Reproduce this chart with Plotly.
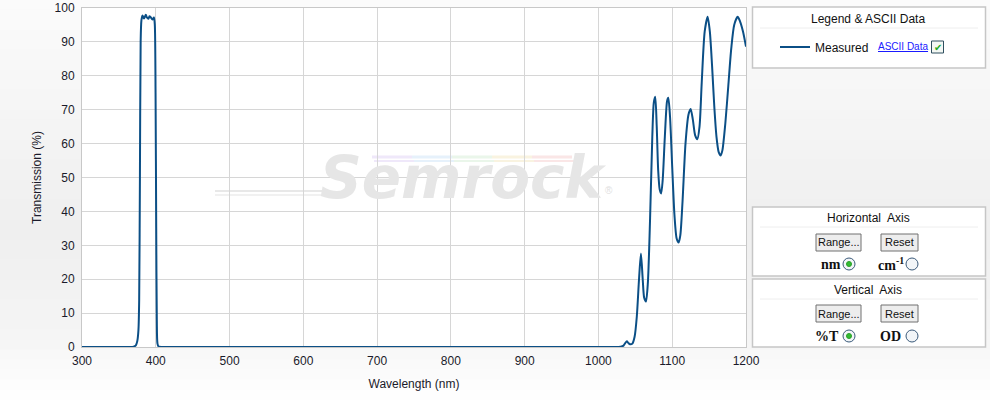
import plotly.graph_objects as go

# ---------------- data ----------------
wavelength_nm = [
    300, 340, 365, 370, 373, 375, 376.5, 377.5, 378.5, 379.5, 380.5, 382, 384, 386.5,
    388, 390, 391.5, 393, 395.5, 397.5, 398.7, 399.7, 400.6, 401.4, 402.3, 404, 410,
    500, 700, 900, 1020, 1030, 1034, 1036.5, 1038.5, 1040.5, 1043, 1046, 1049, 1052,
    1055, 1057.6, 1060, 1062, 1064.4, 1067, 1070, 1073, 1075, 1077, 1079, 1081, 1083,
    1085, 1087, 1090, 1093, 1094.7, 1097, 1100, 1103, 1106, 1108.7, 1111, 1114, 1118,
    1122, 1125, 1128, 1131, 1134, 1137, 1140, 1144, 1148, 1151, 1154, 1157, 1160,
    1163, 1165.7, 1168, 1172, 1176, 1180, 1184, 1188.7, 1192, 1196, 1200,
]
transmission_pct = [
    0, 0, 0, 0.1, 0.5, 1.8, 5, 14, 50, 90, 96.3, 97.8, 96.9, 98.0,
    97.2, 96.8, 97.6, 97.3, 96.6, 97.2, 95, 75, 35, 8, 1, 0.1, 0,
    0, 0, 0, 0, 0.1, 0.4, 1.2, 1.7, 1.2, 0.8, 1.0, 3, 9,
    20, 27.6, 20, 14.5, 13.4, 19, 38, 62, 72, 73.8, 65, 52, 46.5,
    45.3, 49, 62, 72.5, 73.5, 68, 53, 39, 32, 30.8, 33, 43, 60,
    68.5, 70.2, 67, 62.5, 61.3, 65, 78, 93, 97.4, 93, 83, 71, 62,
    57.5, 56.5, 58, 66, 77, 88, 95, 97.4, 96, 93, 88.6,
]

series_name = "Measured"
x_ticks = [300, 400, 500, 600, 700, 800, 900, 1000, 1100, 1200]
y_ticks = [0, 10, 20, 30, 40, 50, 60, 70, 80, 90, 100]

# ---------------- geometry helpers (pixel -> paper) ----------------
W, H = 990, 400
L, R, T, B = 82, 746, 8, 347
PW, PH = R - L, B - T


def px(x):
    return (x - L) / PW


def py(y):
    return (B - y) / PH


FONT = "Liberation Sans, Arial, sans-serif"
SERIF = "Liberation Serif, Times New Roman, serif"
LINE_COLOR = "#0b4f86"

fig = go.Figure()
fig.add_trace(go.Scatter(
    x=wavelength_nm, y=transmission_pct, mode="lines", name=series_name,
    line=dict(color=LINE_COLOR, width=2, shape="spline", smoothing=0.7),
    hoverinfo="x+y",
))

shapes = []
annotations = []


def ann(text, x, y, size=12, color="#111", family=FONT, xanchor="center", yanchor="middle"):
    annotations.append(dict(text=text, xref="paper", yref="paper", x=px(x), y=py(y),
                            xanchor=xanchor, yanchor=yanchor, showarrow=False,
                            font=dict(family=family, size=size, color=color)))


# background gradient bands (page), then white plot area
def lerp(c1, c2, t):
    return tuple(int(round(a + (b - a) * t)) for a, b in zip(c1, c2))


stops = [(0, (251, 251, 251)), (230, (239, 239, 239)), (330, (244, 244, 244)), (400, (255, 255, 255))]
nb = 40
for i in range(nb):
    y0 = H * i / nb
    y1 = H * (i + 1) / nb
    ym = (y0 + y1) / 2
    for (a, ca), (b, cb) in zip(stops[:-1], stops[1:]):
        if a <= ym <= b:
            c = lerp(ca, cb, (ym - a) / (b - a))
            break
    shapes.append(dict(type="rect", xref="paper", yref="paper", layer="below",
                       x0=px(0), x1=px(W), y0=py(y1 + 0.5), y1=py(y0 - 0.5),
                       line=dict(width=0), fillcolor="rgb(%d,%d,%d)" % c))
shapes.append(dict(type="rect", xref="paper", yref="paper", layer="below",
                   x0=0, x1=1, y0=0, y1=1, line=dict(width=0), fillcolor="white"))

# watermark streaks
shapes.append(dict(type="line", xref="paper", yref="paper", layer="below",
                   x0=px(215), x1=px(330), y0=py(191), y1=py(191),
                   line=dict(color="#e8e8e8", width=2)))
shapes.append(dict(type="line", xref="paper", yref="paper", layer="below",
                   x0=px(215), x1=px(327), y0=py(195), y1=py(195),
                   line=dict(color="#ececec", width=1.5)))
streak_cols = ["#efe8fa", "#e6f1fb", "#eaf6ea", "#f9f3e0", "#fae6e6"]
for k, c in enumerate(streak_cols):
    shapes.append(dict(type="line", xref="paper", yref="paper", layer="below",
                       x0=px(372 + k * 40), x1=px(412 + k * 40), y0=py(157), y1=py(157),
                       line=dict(color=c, width=3)))
    shapes.append(dict(type="line", xref="paper", yref="paper", layer="below",
                       x0=px(374 + k * 40), x1=px(414 + k * 40), y0=py(161), y1=py(161),
                       line=dict(color=c, width=2)))
ann("<b><i>Semrock</i></b>", 463, 178, size=58, color="#e6e6e6", family="DejaVu Sans, Liberation Sans")
ann("®", 609, 190, size=10, color="#e0e0e0")

# ---------------- right-hand panels ----------------
PANEL_BORDER = "#c6c6c6"


def panel(y0, y1, title, title_y, sep_y):
    shapes.append(dict(type="rect", xref="paper", yref="paper", x0=px(752.5), x1=px(985.5),
                       y0=py(y1), y1=py(y0), line=dict(color=PANEL_BORDER, width=1.5),
                       fillcolor="white"))
    shapes.append(dict(type="line", xref="paper", yref="paper", x0=px(760), x1=px(978),
                       y0=py(sep_y), y1=py(sep_y), line=dict(color="#eeeeee", width=1)))
    ann(title, 868, title_y, size=12, color="#111")


panel(7, 68, "Legend &amp; ASCII Data", 19, 28)
panel(207, 276, "Horizontal  Axis", 218, 227)
panel(279, 347, "Vertical  Axis", 290, 299)

# ASCII Data link + checkbox
ann("<u>ASCII Data</u>", 876, 47, size=10, color="#1a1aff", xanchor="left")
shapes.append(dict(type="rect", xref="paper", yref="paper", x0=px(931.5), x1=px(943.5),
                   y0=py(53), y1=py(41), line=dict(color="#2f4f5f", width=1), fillcolor="#f4f8f4"))
ann("✔", 937.5, 47.5, size=10, color="#22aa22", family="DejaVu Sans")


def button(x0, x1, y0, y1, label):
    shapes.append(dict(type="rect", xref="paper", yref="paper", x0=px(x0), x1=px(x1),
                       y0=py(y1), y1=py(y0), line=dict(color="#707070", width=1),
                       fillcolor="#ededed"))
    ann(label, (x0 + x1) / 2, (y0 + y1) / 2, size=11, color="#111")


def radio(cx, cy, selected):
    shapes.append(dict(type="circle", xref="paper", yref="paper", x0=px(cx - 6), x1=px(cx + 6),
                       y0=py(cy + 6), y1=py(cy - 6), line=dict(color="#3b5a7a", width=1),
                       fillcolor="#f2f5f8"))
    if selected:
        shapes.append(dict(type="circle", xref="paper", yref="paper", x0=px(cx - 2.5),
                           x1=px(cx + 2.5), y0=py(cy + 2.5), y1=py(cy - 2.5),
                           line=dict(color="#2aa02a", width=1), fillcolor="#33bb33"))


def label(x, y, text):
    ann("<b>" + text + "</b>", x, y, size=14, color="#111", family=SERIF, xanchor="right")


button(816, 861, 234, 251, "Range...")
button(881, 918, 234, 251, "Reset")
label(843, 264, "nm")
radio(849, 264, True)
label(906, 264, "cm<sup>-1</sup>")
radio(912, 264, False)

button(816, 861, 305, 322, "Range...")
button(881, 918, 305, 322, "Reset")
label(841, 336, "%T")
radio(849, 336, True)
label(903, 336, "OD")
radio(912, 336, False)

fig.update_layout(
    width=W, height=H, autosize=False,
    margin=dict(l=L, r=W - R, t=T, b=H - B, pad=0, autoexpand=False),
    paper_bgcolor="#f6f6f6", plot_bgcolor="white",
    font=dict(family=FONT, size=12, color="#1a1a2a"),
    shapes=shapes, annotations=annotations,
    showlegend=True,
    legend=dict(x=px(775), y=py(47), xanchor="left", yanchor="middle",
                bgcolor="rgba(0,0,0,0)", font=dict(family=FONT, size=12, color="#111"),
                itemwidth=30),
    xaxis=dict(range=[300, 1200], tickvals=x_ticks, showgrid=True, gridcolor="#d6d6d6",
               gridwidth=1, showline=True, linecolor="#c8c8c8", linewidth=1, mirror=True,
               zeroline=False, ticks="outside", ticklen=3, tickcolor="rgba(0,0,0,0)",
               automargin=False,
               title=dict(text="Wavelength (nm)", standoff=12, font=dict(size=12))),
    yaxis=dict(range=[0, 100], tickvals=y_ticks, showgrid=True, gridcolor="#d6d6d6",
               gridwidth=1, showline=True, linecolor="#c8c8c8", linewidth=1, mirror=True,
               zeroline=False, ticks="outside", ticklen=4, tickcolor="rgba(0,0,0,0)",
               automargin=False,
               title=dict(text="Transmission (%)", standoff=10, font=dict(size=12))),
)

fig.write_html("out.html", config={"displayModeBar": False},
               post_script="document.body.style.margin='0px';")
